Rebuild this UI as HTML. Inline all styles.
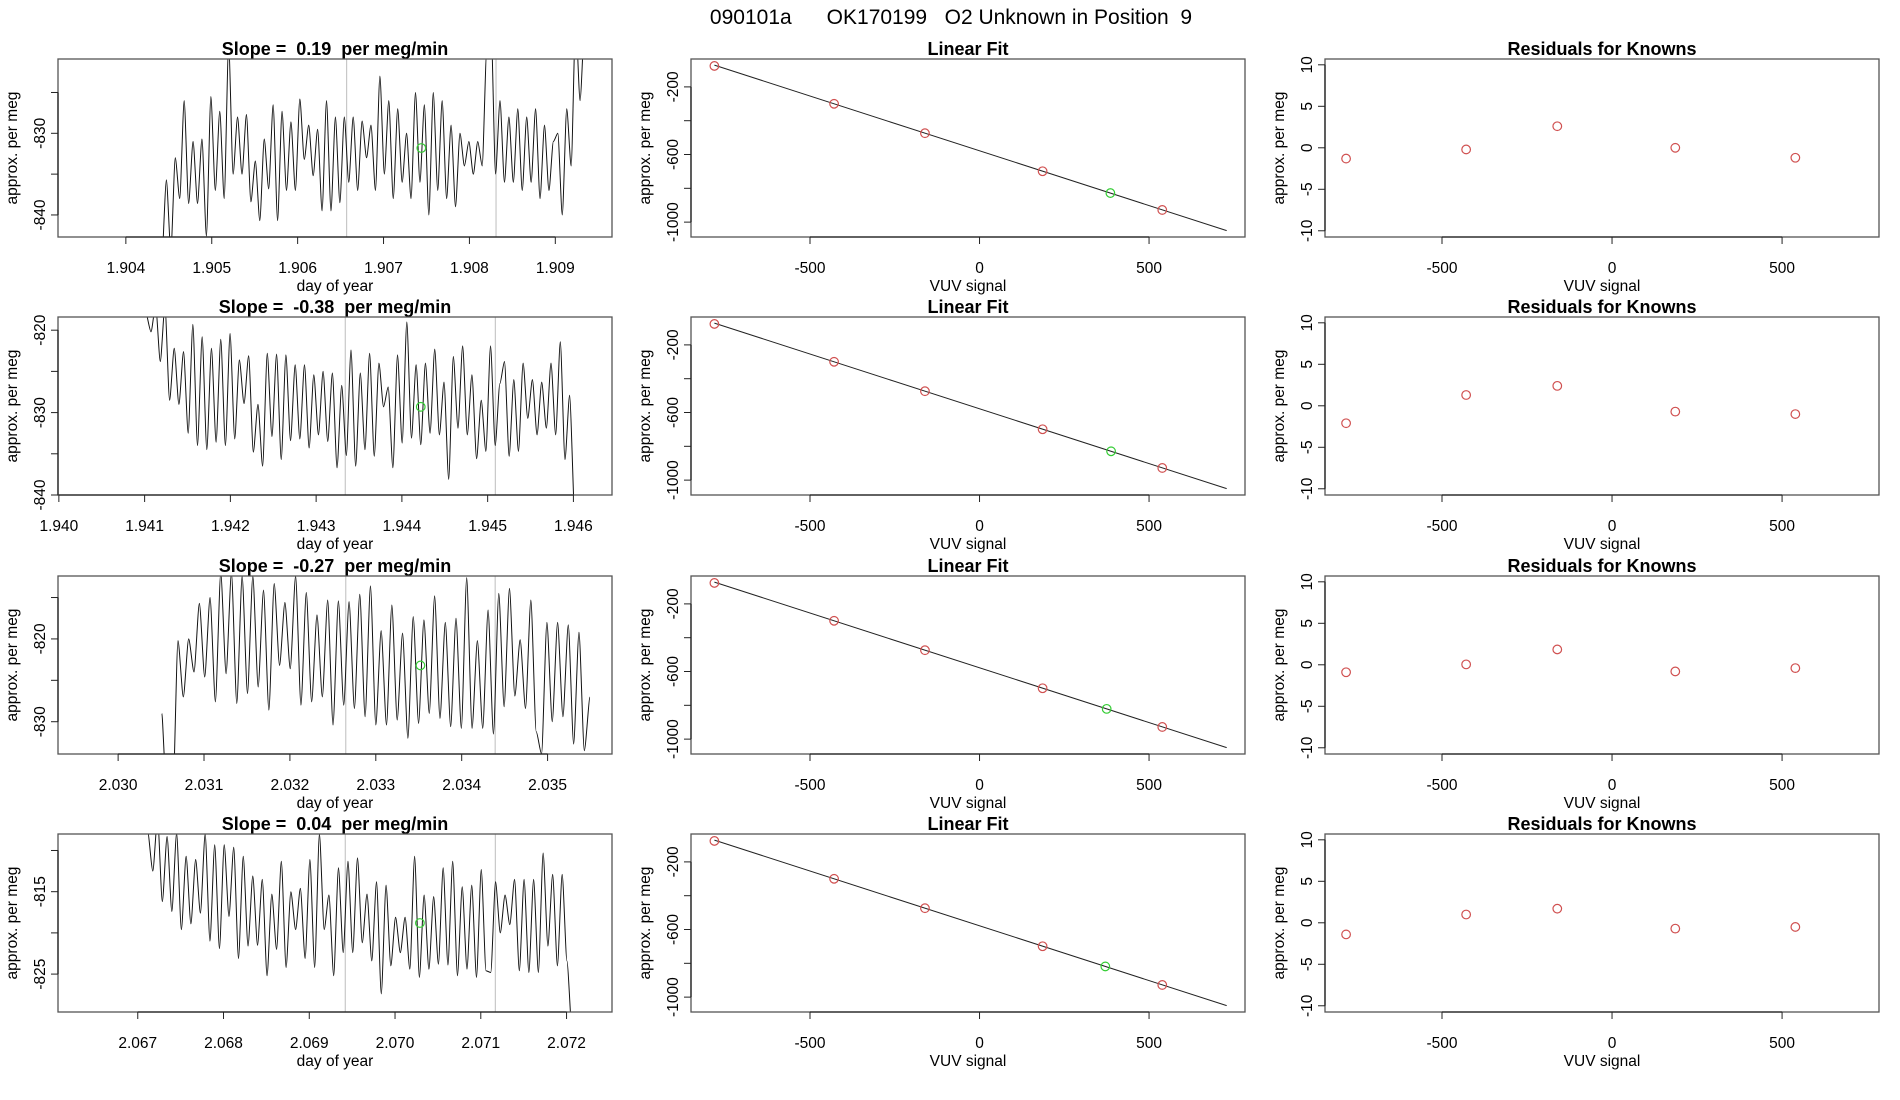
<!DOCTYPE html>
<html><head><meta charset="utf-8">
<style>
html,body{margin:0;padding:0;background:#fff;}
svg{display:block;font-family:"Liberation Sans",sans-serif;}
text{white-space:pre;}
</style></head>
<body>
<svg id="chart" width="1900" height="1100" viewBox="0 0 1900 1100" xmlns="http://www.w3.org/2000/svg">
<text x="951" y="24" text-anchor="middle" font-size="21" style="white-space:pre" xml:space="preserve">090101a      OK170199   O2 Unknown in Position  9</text>
</svg>
<script>
// ---- Time series data (values at successive extrema, evenly spread between start/end times) ----
const tsSlopeLabels = ["0.19", "-0.38", "-0.27", "0.04"];
const tsStart = [1.90442, 1.94102, 2.03051, 2.06712];
const tsEnd = [1.90934, 1.94601, 2.03549, 2.07206];
const tsXMin = [1.90321, 1.93999, 2.0293, 2.06607];
const tsXMax = [1.90966, 1.94645, 2.03575, 2.07253];
const tsYMin = [-842.7, -840, -833.9, -829.6];
const tsYMax = [-820.9, -818.4, -812.4, -808];
const tsXTicks = [
  ["1.904","1.905","1.906","1.907","1.908","1.909"],
  ["1.940","1.941","1.942","1.943","1.944","1.945","1.946"],
  ["2.030","2.031","2.032","2.033","2.034","2.035"],
  ["2.067","2.068","2.069","2.070","2.071","2.072"]
];
const tsYTicks = [[-825,-830,-835,-840],[-820,-825,-830,-835,-840],[-815,-820,-825,-830],[-810,-815,-820,-825]];
const tsYTickLabels = [["","-830","","-840"],["-820","","-830","","-840"],["","-820","","-830"],["","-815","","-825"]];
const tsGrey1 = [1.90657, 1.94334, 2.03265, 2.06942];
const tsGrey2 = [1.90831, 1.94509, 2.03439, 2.07117];
const tsGreenT = [1.90744, 1.94422, 2.03352, 2.07029];
const tsGreenV = [-831.8, -829.3, -823.2, -818.8];
const tsRow1 = [-846,-835.7,-844.5,-833,-838,-826,-838.6,-831,-838.6,-830.7,-842.6,-825.5,-837,-827.3,-838,-819,-835,-828,-835,-827.7,-838.4,-833.4,-840.7,-830.7,-836.8,-826.5,-840.7,-827.3,-837,-828.6,-837,-825.8,-833.2,-829,-835.2,-829.5,-839.5,-826,-839.5,-828,-838.5,-828,-836,-828,-837,-828.5,-833,-829,-837,-823,-835,-826,-838,-827,-836,-830,-838,-825,-836,-826.5,-840,-825,-837,-826,-838,-829,-839,-830,-834,-831,-835,-831,-834,-820,-817,-835,-826,-836,-828,-836,-827,-837,-828,-836,-827,-838,-829,-837,-831,-830,-840,-827,-834,-816,-826,-816];
const tsRow2 = [-818,-820.2,-817,-823.8,-817,-828.5,-822.2,-829,-822.6,-832.5,-819.3,-834,-820.8,-834.5,-822.2,-833.6,-821.1,-834,-820.4,-833.2,-823.6,-828.9,-823.1,-834.8,-829,-836.5,-822.8,-832.9,-822.9,-835.7,-823,-833.4,-824.2,-833.2,-824.2,-834.3,-825.4,-832.7,-825,-833.5,-825.2,-836.7,-826.7,-835.2,-822.4,-836.5,-825.2,-834.5,-822.8,-835.3,-824,-829.3,-826.9,-836.7,-823,-833.7,-819,-833.1,-824.2,-833.9,-824,-832.5,-822.3,-832.7,-826.3,-838.1,-823.2,-831.9,-821.9,-832.7,-825.4,-835.6,-828.5,-834.7,-821.9,-834,-826.5,-823.8,-835.3,-826,-834.7,-824,-830.7,-826,-832.7,-826.3,-831.9,-824,-832.7,-821.4,-835.7,-827.9,-842];
const tsRow3 = [-829,-840,-840,-820.2,-827,-820,-824,-815.7,-824.6,-815,-827.6,-812,-824.2,-812,-827.8,-812.4,-826.6,-812.4,-825.8,-814.1,-828.6,-813.3,-823.2,-815.6,-823.6,-812.4,-828,-814.4,-827.6,-817.1,-827,-815.3,-830.4,-815.4,-828,-815.5,-828.4,-814.6,-829.4,-813.6,-830.4,-819,-830.4,-815.9,-829.8,-819.3,-832,-817.3,-830.2,-817.7,-829,-814.8,-829.6,-818,-830.6,-817.5,-830.8,-812.6,-830.8,-820.2,-830.8,-816.5,-831.5,-814.5,-828.2,-813.9,-826.9,-820.1,-828.4,-815.3,-831.2,-833.9,-818,-830,-818,-829.4,-818.3,-832.7,-819.2,-833.5,-827];
const tsRow4 = [-807.7,-812.5,-806,-816.2,-808.3,-817.4,-807.9,-819.6,-810.7,-818.9,-811.1,-817.6,-808,-821,-809.3,-821.9,-809.3,-818,-809.6,-823.1,-810.7,-821.6,-813.1,-821.5,-813.5,-825.2,-815.3,-822,-811.3,-824.2,-815,-819.6,-814.6,-823.1,-811.1,-824.2,-808,-819.6,-815.4,-825.2,-812.1,-822.4,-811.3,-822.4,-810.9,-821.2,-815.3,-823.4,-813.8,-827.4,-814.2,-824,-818.1,-822.4,-818.1,-824.4,-810.7,-825.4,-815.4,-824.4,-815.6,-823.8,-812.1,-823.9,-811.3,-825.2,-814.4,-824.4,-814.2,-825.4,-812.3,-824.6,-824.8,-813.8,-820,-815.4,-819,-813.5,-824.6,-813.5,-824.8,-813.5,-824.8,-810.3,-821.6,-812.9,-824,-812.9,-823.4,-832];
const tsRows = [tsRow1, tsRow2, tsRow3, tsRow4];

// ---- Linear fit data ----
const knownX = [-782, -429, -161, 186, 539];
const knownY = [-76, -300, -474, -699, -928];
const fitSlope = -0.648;
const fitIntercept = -578;
const fitLineX = [-782, 729];
const unknownX = [386, 388, 375, 371];
const fitXTicks = [-500, 0, 500];
const fitYTicks = [-200, -400, -600, -800, -1000];
const fitYTickLabels = ["-200", "", "-600", "", "-1000"];

// ---- Residuals data ----
const residRow1 = [-1.3, -0.2, 2.6, 0, -1.2];
const residRow2 = [-2.1, 1.3, 2.4, -0.7, -1.0];
const residRow3 = [-0.9, 0.05, 1.85, -0.8, -0.4];
const residRow4 = [-1.4, 1.0, 1.7, -0.7, -0.5];
const residRows = [residRow1, residRow2, residRow3, residRow4];
const residYTicks = [10, 5, 0, -5, -10];

const svg = document.getElementById('chart');
const NS = 'http://www.w3.org/2000/svg';
function mk(tag, attrs, parent) {
  const e = document.createElementNS(NS, tag);
  for (const k in attrs) e.setAttribute(k, attrs[k]);
  (parent || svg).appendChild(e);
  return e;
}
const colLeft = [58, 691, 1325];
const boxW = 554;
const rowTop = [59, 317, 576, 834];
const boxH = 178;

function scale(d0, d1, r0, r1) { return v => r0 + (v - d0) / (d1 - d0) * (r1 - r0); }

function frame(g, L, T, title, xlab) {
  const t = mk('text', {x: L + boxW/2, y: T - 4, 'text-anchor': 'middle', 'font-size': 18, 'font-weight': 'bold'}, g);
  t.textContent = title;
  
  
  const b = mk('rect', {x: L, y: T, width: boxW, height: boxH, fill: 'none', stroke: '#555', 'stroke-width': 1.3}, g);
  
  
  const xl = mk('text', {x: L + boxW/2, y: T + boxH + 54, 'text-anchor': 'middle', 'font-size': 15.5}, g);
  xl.textContent = xlab;
  
  
  const yl = mk('text', {x: 0, y: 0, 'text-anchor': 'middle', 'font-size': 15.5, transform: `translate(${L-41},${T+boxH/2}) rotate(-90)`}, g);
  yl.textContent = 'approx. per meg';
  
  
}
function xTick(g, px, T, label) {
  const y0 = T + boxH;
  const l = mk('line', {x1: px, x2: px, y1: y0, y2: y0 + 7, stroke: '#222', 'stroke-width': 1}, g);
  
  
  const t = mk('text', {x: px, y: y0 + 36, 'text-anchor': 'middle', 'font-size': 15.5}, g);
  t.textContent = label;
  
  
}
function yTick(g, L, py, label) {
  const l = mk('line', {x1: L - 7, x2: L, y1: py, y2: py, stroke: '#222', 'stroke-width': 1}, g);
  
  
  if (label !== '') {
    const t = mk('text', {x: 0, y: 0, 'text-anchor': 'middle', 'font-size': 15.5, transform: `translate(${L-13},${py}) rotate(-90)`}, g);
    t.textContent = label;
    
    
  }
}
function axisLines(g, L, T, x0, x1, y0, y1) {
  const a = mk('line', {x1: x0, x2: x1, y1: T + boxH, y2: T + boxH, stroke: '#222', 'stroke-width': 1.3}, g);
  
  
  const b = mk('line', {x1: L, x2: L, y1: y0, y2: y1, stroke: '#222', 'stroke-width': 1.3}, g);
  
  
}

for (let r = 0; r < 4; r++) {
  const T = rowTop[r];
  // ---------- time series panel ----------
  {
    const L = colLeft[0];
    const g = mk('g', {});
    
    
    const sx = scale(tsXMin[r], tsXMax[r], L, L + boxW);
    const sy = scale(tsYMin[r], tsYMax[r], T + boxH, T);
    const clipId = 'clip' + r;
    const cp = mk('clipPath', {id: clipId}, g);
    mk('rect', {x: L, y: T, width: boxW, height: boxH}, cp);
    [tsGrey1[r], tsGrey2[r]].forEach(v => {
      const l = mk('line', {x1: sx(v), x2: sx(v), y1: T, y2: T + boxH, stroke: '#c8c8c8', 'stroke-width': 1.2}, g);
      
      
    });
    const vals = tsRows[r];
    const n = vals.length;
    const pts = vals.map((v, i) => [sx(tsStart[r] + (tsEnd[r] - tsStart[r]) * i / (n - 1)), sy(v)]);
    // smooth curve through extrema (Catmull-Rom -> Bezier)
    let d = 'M' + pts[0][0].toFixed(2) + ' ' + pts[0][1].toFixed(2);
    for (let i = 0; i < n - 1; i++) {
      const p0 = pts[Math.max(0, i - 1)], p1 = pts[i], p2 = pts[i + 1], p3 = pts[Math.min(n - 1, i + 2)];
      const k = 0.12;
      const c1x = p1[0] + (p2[0] - p0[0]) * k, c1y = p1[1];
      const c2x = p2[0] - (p3[0] - p1[0]) * k, c2y = p2[1];
      d += `C${c1x.toFixed(2)} ${c1y.toFixed(2)} ${c2x.toFixed(2)} ${c2y.toFixed(2)} ${p2[0].toFixed(2)} ${p2[1].toFixed(2)}`;
    }
    const p = mk('path', {d: d, fill: 'none', stroke: '#111', 'stroke-width': 1, 'clip-path': `url(#${clipId})`}, g);
    
    
    const c = mk('circle', {cx: sx(tsGreenT[r]), cy: sy(tsGreenV[r]), r: 4.3, fill: 'none', stroke: '#3c3', 'stroke-width': 1.2}, g);
    
    
    frame(g, L, T, 'Slope =  ' + tsSlopeLabels[r] + '  per meg/min', 'day of year');
    const xt = tsXTicks[r];
    xt.forEach(lbl => xTick(g, sx(parseFloat(lbl)), T, lbl));
    const yt = tsYTicks[r];
    yt.forEach((v, i) => yTick(g, L, sy(v), tsYTickLabels[r][i]));
    axisLines(g, L, T, sx(parseFloat(xt[0])), sx(parseFloat(xt[xt.length-1])), sy(yt[0]), sy(yt[yt.length-1]));
  }
  // ---------- linear fit panel ----------
  {
    const L = colLeft[1];
    const g = mk('g', {});
    
    
    const sx = scale(-851, 783, L, L + boxW);
    const sy = scale(-1088, -35, T + boxH, T);
    const ln = mk('line', {x1: sx(fitLineX[0]), y1: sy(fitIntercept + fitSlope * fitLineX[0]), x2: sx(fitLineX[1]), y2: sy(fitIntercept + fitSlope * fitLineX[1]), stroke: '#222', 'stroke-width': 1}, g);
    
    
    knownX.forEach((x, i) => {
      const c = mk('circle', {cx: sx(x), cy: sy(knownY[i]), r: 4.3, fill: 'none', stroke: '#d05050', 'stroke-width': 1.2}, g);
      
      
    });
    const ux = unknownX[r];
    const uc = mk('circle', {cx: sx(ux), cy: sy(fitIntercept + fitSlope * ux), r: 4.3, fill: 'none', stroke: '#3c3', 'stroke-width': 1.2}, g);
    
    
    frame(g, L, T, 'Linear Fit', 'VUV signal');
    fitXTicks.forEach(v => xTick(g, sx(v), T, String(v)));
    fitYTicks.forEach((v, i) => yTick(g, L, sy(v), fitYTickLabels[i]));
    axisLines(g, L, T, sx(fitXTicks[0]), sx(fitXTicks[2]), sy(fitYTicks[0]), sy(fitYTicks[4]));
  }
  // ---------- residuals panel ----------
  {
    const L = colLeft[2];
    const g = mk('g', {});
    
    
    const sx = scale(-844, 785, L, L + boxW);
    const sy = scale(-10.75, 10.7, T + boxH, T);
    residRows[r].forEach((v, i) => {
      const c = mk('circle', {cx: sx(knownX[i]), cy: sy(v), r: 4.3, fill: 'none', stroke: '#d05050', 'stroke-width': 1.2}, g);
      
      
    });
    frame(g, L, T, 'Residuals for Knowns', 'VUV signal');
    fitXTicks.forEach(v => xTick(g, sx(v), T, String(v)));
    residYTicks.forEach(v => yTick(g, L, sy(v), String(v)));
    axisLines(g, L, T, sx(fitXTicks[0]), sx(fitXTicks[2]), sy(10), sy(-10));
  }
}
</script>
</body></html>
